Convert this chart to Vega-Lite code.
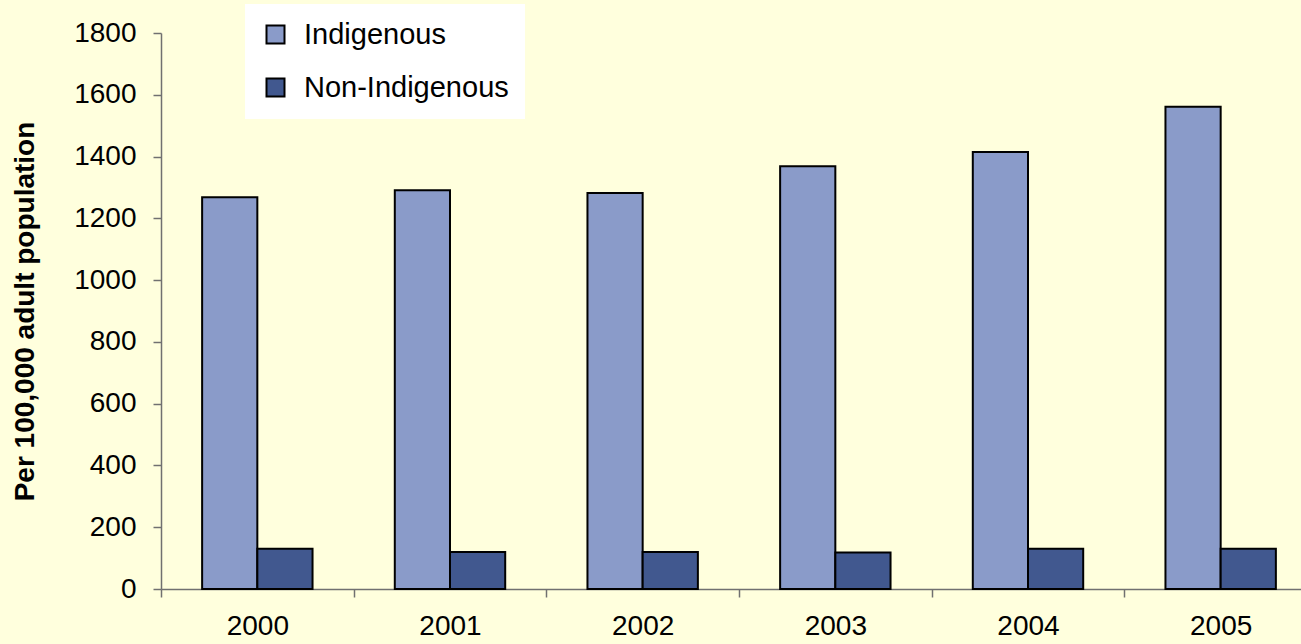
{
  "$schema": "https://vega.github.io/schema/vega-lite/v6.json",
  "autosize": {"type": "none"},
  "width": 1156,
  "height": 556,
  "padding": {"left": 161, "top": 33, "right": -16, "bottom": 55},
  "background": "#FFFFDD",
  "config": {
    "view": {"stroke": null},
    "font": "Liberation Sans"
  },
  "data": {
    "values": [
      {"year": "2000", "group": "Indigenous", "value": 1268},
      {"year": "2000", "group": "Non-Indigenous", "value": 130},
      {"year": "2001", "group": "Indigenous", "value": 1291},
      {"year": "2001", "group": "Non-Indigenous", "value": 120},
      {"year": "2002", "group": "Indigenous", "value": 1282},
      {"year": "2002", "group": "Non-Indigenous", "value": 120},
      {"year": "2003", "group": "Indigenous", "value": 1369},
      {"year": "2003", "group": "Non-Indigenous", "value": 118},
      {"year": "2004", "group": "Indigenous", "value": 1415},
      {"year": "2004", "group": "Non-Indigenous", "value": 130},
      {"year": "2005", "group": "Indigenous", "value": 1561},
      {"year": "2005", "group": "Non-Indigenous", "value": 130}
    ]
  },
  "mark": {"type": "bar", "stroke": "#000000", "strokeWidth": 2},
  "encoding": {
    "x": {
      "field": "year",
      "type": "nominal",
      "scale": {"paddingInner": 0, "paddingOuter": 0},
      "axis": {
        "title": null,
        "labelAngle": 0,
        "tickBand": "extent",
        "labelFontSize": 28,
        "labelColor": "#000000",
        "labelPadding": 15,
        "tickSize": 8,
        "tickColor": "#707070",
        "tickWidth": 1.5,
        "domainColor": "#707070",
        "domainWidth": 1.5
      }
    },
    "xOffset": {
      "field": "group",
      "scale": {"paddingInner": 0, "paddingOuter": 0.745}
    },
    "y": {
      "field": "value",
      "type": "quantitative",
      "scale": {"domain": [0, 1800], "nice": false},
      "axis": {
        "title": "Per 100,000 adult population",
        "titleFontSize": 28,
        "titleFontWeight": "bold",
        "titleColor": "#000000",
        "titleAngle": -90,
        "titleX": -128,
        "titleY": 278,
        "titleAlign": "center",
        "titleBaseline": "alphabetic",
        "values": [0, 200, 400, 600, 800, 1000, 1200, 1400, 1600, 1800],
        "format": "d",
        "grid": false,
        "labelFontSize": 28,
        "labelColor": "#000000",
        "labelPadding": 17,
        "tickSize": 8,
        "tickColor": "#707070",
        "tickWidth": 1.5,
        "domainColor": "#707070",
        "domainWidth": 1.5
      }
    },
    "color": {
      "field": "group",
      "type": "nominal",
      "scale": {"domain": ["Indigenous", "Non-Indigenous"], "range": ["#8A9BC9", "#41588F"]},
      "legend": {
        "title": null,
        "orient": "none",
        "legendX": 84,
        "legendY": -29,
        "fillColor": "#FFFFFF",
        "padding": 16,
        "symbolType": "square",
        "symbolSize": 324,
        "symbolStrokeColor": "#000000",
        "symbolStrokeWidth": 2,
        "labelFontSize": 29,
        "labelLimit": 400,
        "labelColor": "#000000",
        "labelOffset": 14,
        "rowPadding": 23
      }
    }
  }
}
